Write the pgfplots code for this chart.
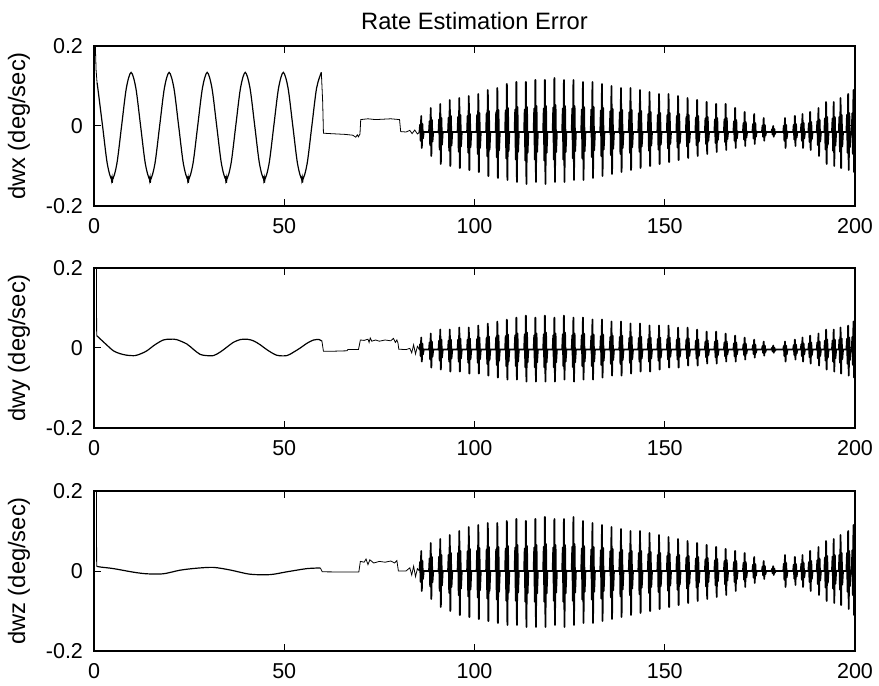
\documentclass[border=0pt]{standalone}
\usepackage{fontspec}
\setmainfont{Liberation Sans}
\usepackage{pgfplots}
\pgfplotsset{compat=1.18}
\usepackage{pgfplotstable}

\pgfplotstableread{
t dwx dwy dwz
85.55 -0.015 -0.004 0
85.7 0.003 0.0095 0.0225
85.85 -0.037 -0.0205 -0.0275
86.0 0.025 0.026 0.05
86.15 -0.055 -0.034 -0.05
86.3 0.005 0.011 0.025
86.45 -0.031 -0.016 -0.02
86.65 -0.015 -0.004 0
88.05 -0.015 -0.004 0
88.2 0.012 0.014 0.0315
88.35 -0.048 -0.0288 -0.0385
88.5 0.045 0.036 0.07
88.65 -0.075 -0.049 -0.07
88.8 0.015 0.016 0.035
88.95 -0.039 -0.022 -0.028
89.15 -0.015 -0.004 0
90.55 -0.015 -0.004 0
90.7 0.0165 0.0185 0.036
90.85 -0.059 -0.0315 -0.0495
91.0 0.055 0.046 0.08
91.15 -0.095 -0.054 -0.09
91.3 0.02 0.021 0.04
91.45 -0.047 -0.024 -0.036
91.65 -0.015 -0.004 0
93.05 -0.015 -0.004 0
93.2 0.021 0.0185 0.0405
93.35 -0.062 -0.034 -0.055
93.5 0.065 0.046 0.09
93.65 -0.1 -0.059 -0.1
93.8 0.025 0.021 0.045
93.95 -0.049 -0.026 -0.04
94.15 -0.015 -0.004 0
95.55 -0.015 -0.004 0
95.7 0.023 0.0208 0.045
95.85 -0.0645 -0.034 -0.0605
96.0 0.07 0.051 0.1
96.15 -0.105 -0.059 -0.11
96.3 0.0275 0.0235 0.05
96.45 -0.051 -0.026 -0.044
96.65 -0.015 -0.004 0
98.05 -0.015 -0.004 0
98.2 0.0255 0.0208 0.0495
98.35 -0.067 -0.037 -0.0633
98.5 0.075 0.051 0.11
98.65 -0.11 -0.064 -0.115
98.8 0.03 0.0235 0.055
98.95 -0.053 -0.028 -0.046
99.15 -0.015 -0.004 0
100.55 -0.015 -0.004 0
100.7 0.028 0.023 0.0518
100.85 -0.07 -0.037 -0.066
101.0 0.08 0.056 0.115
101.15 -0.115 -0.064 -0.12
101.3 0.0325 0.026 0.0575
101.45 -0.055 -0.028 -0.048
101.65 -0.015 -0.004 0
103.05 -0.015 -0.004 0
103.2 0.032 0.0253 0.054
103.35 -0.0755 -0.0398 -0.0688
103.5 0.09 0.061 0.12
103.65 -0.125 -0.069 -0.125
103.8 0.0375 0.0285 0.06
103.95 -0.059 -0.03 -0.05
104.15 -0.015 -0.004 0
105.55 -0.015 -0.004 0
105.7 0.0345 0.0275 0.054
105.85 -0.078 -0.0425 -0.0715
106.0 0.095 0.066 0.12
106.15 -0.13 -0.074 -0.13
106.3 0.04 0.031 0.06
106.45 -0.061 -0.032 -0.052
106.65 -0.015 -0.004 0
108.05 -0.015 -0.004 0
108.2 0.039 0.0298 0.0563
108.35 -0.081 -0.0453 -0.0743
108.5 0.105 0.071 0.125
108.65 -0.135 -0.079 -0.135
108.8 0.045 0.0335 0.0625
108.95 -0.063 -0.034 -0.054
109.15 -0.015 -0.004 0
110.55 -0.015 -0.004 0
110.7 0.041 0.032 0.0585
110.85 -0.084 -0.0453 -0.0743
111.0 0.11 0.076 0.13
111.15 -0.14 -0.079 -0.135
111.3 0.0475 0.036 0.065
111.45 -0.065 -0.034 -0.054
111.65 -0.015 -0.004 0
113.05 -0.015 -0.004 0
113.2 0.041 0.0343 0.0563
113.35 -0.0865 -0.048 -0.077
113.5 0.11 0.081 0.125
113.65 -0.145 -0.084 -0.14
113.8 0.0475 0.0385 0.0625
113.95 -0.067 -0.036 -0.056
114.15 -0.015 -0.004 0
115.55 -0.015 -0.004 0
115.7 0.0435 0.032 0.0585
115.85 -0.084 -0.048 -0.077
116.0 0.115 0.076 0.13
116.15 -0.14 -0.084 -0.14
116.3 0.05 0.036 0.065
116.45 -0.065 -0.036 -0.056
116.65 -0.015 -0.004 0
118.05 -0.015 -0.004 0
118.2 0.0435 0.0343 0.0608
118.35 -0.0865 -0.048 -0.077
118.5 0.115 0.081 0.135
118.65 -0.145 -0.084 -0.14
118.8 0.05 0.0385 0.0675
118.95 -0.067 -0.036 -0.056
119.15 -0.015 -0.004 0
120.55 -0.015 -0.004 0
120.7 0.046 0.032 0.0585
120.85 -0.084 -0.048 -0.0743
121.0 0.12 0.076 0.13
121.15 -0.14 -0.084 -0.135
121.3 0.0525 0.036 0.065
121.45 -0.065 -0.036 -0.054
121.65 -0.015 -0.004 0
123.05 -0.015 -0.004 0
123.2 0.0435 0.0343 0.0585
123.35 -0.084 -0.0453 -0.077
123.5 0.115 0.081 0.13
123.65 -0.14 -0.079 -0.14
123.8 0.05 0.0385 0.065
123.95 -0.065 -0.034 -0.056
124.15 -0.015 -0.004 0
125.55 -0.015 -0.004 0
125.7 0.0435 0.032 0.0608
125.85 -0.081 -0.048 -0.0743
126.0 0.115 0.076 0.135
126.15 -0.135 -0.084 -0.135
126.3 0.05 0.036 0.0675
126.45 -0.063 -0.036 -0.054
126.65 -0.015 -0.004 0
128.05 -0.015 -0.004 0
128.2 0.041 0.032 0.0563
128.35 -0.081 -0.0453 -0.0715
128.5 0.11 0.076 0.125
128.65 -0.135 -0.079 -0.13
128.8 0.0475 0.036 0.0625
128.95 -0.063 -0.034 -0.052
129.15 -0.015 -0.004 0
130.55 -0.015 -0.004 0
130.7 0.041 0.0298 0.054
130.85 -0.078 -0.0453 -0.0715
131.0 0.11 0.071 0.12
131.15 -0.13 -0.079 -0.13
131.3 0.0475 0.0335 0.06
131.45 -0.061 -0.034 -0.052
131.65 -0.015 -0.004 0
133.05 -0.015 -0.004 0
133.2 0.039 0.0298 0.0518
133.35 -0.0755 -0.0425 -0.0688
133.5 0.105 0.071 0.115
133.65 -0.125 -0.074 -0.125
133.8 0.045 0.0335 0.0575
133.95 -0.059 -0.032 -0.05
134.15 -0.015 -0.004 0
135.55 -0.015 -0.004 0
135.7 0.037 0.0275 0.0495
135.85 -0.073 -0.0398 -0.066
136.0 0.1 0.066 0.11
136.15 -0.12 -0.069 -0.12
136.3 0.0425 0.031 0.055
136.45 -0.057 -0.03 -0.048
136.65 -0.015 -0.004 0
138.05 -0.015 -0.004 0
138.2 0.0345 0.0275 0.0473
138.35 -0.07 -0.0398 -0.0633
138.5 0.095 0.066 0.105
138.65 -0.115 -0.069 -0.115
138.8 0.04 0.031 0.0525
138.95 -0.055 -0.03 -0.046
139.15 -0.015 -0.004 0
140.55 -0.015 -0.004 0
140.7 0.0345 0.0253 0.045
140.85 -0.067 -0.037 -0.0605
141.0 0.095 0.061 0.1
141.15 -0.11 -0.064 -0.11
141.3 0.04 0.0285 0.05
141.45 -0.053 -0.028 -0.044
141.65 -0.015 -0.004 0
143.05 -0.015 -0.004 0
143.2 0.032 0.0253 0.045
143.35 -0.0645 -0.034 -0.0578
143.5 0.09 0.061 0.1
143.65 -0.105 -0.059 -0.105
143.8 0.0375 0.0285 0.05
143.95 -0.051 -0.026 -0.042
144.15 -0.015 -0.004 0
145.55 -0.015 -0.004 0
145.7 0.03 0.023 0.0428
145.85 -0.062 -0.034 -0.055
146.0 0.085 0.056 0.095
146.15 -0.1 -0.059 -0.1
146.3 0.035 0.026 0.0475
146.45 -0.049 -0.026 -0.04
146.65 -0.015 -0.004 0
148.05 -0.015 -0.004 0
148.2 0.028 0.023 0.0405
148.35 -0.059 -0.0315 -0.0523
148.5 0.08 0.056 0.09
148.65 -0.095 -0.054 -0.095
148.8 0.0325 0.026 0.045
148.95 -0.047 -0.024 -0.038
149.15 -0.015 -0.004 0
150.55 -0.015 -0.004 0
150.7 0.028 0.023 0.0383
150.85 -0.056 -0.0288 -0.0495
151.0 0.08 0.056 0.085
151.15 -0.09 -0.049 -0.09
151.3 0.0325 0.026 0.0425
151.45 -0.045 -0.022 -0.036
151.65 -0.015 -0.004 0
153.05 -0.015 -0.004 0
153.2 0.0255 0.0208 0.036
153.35 -0.0535 -0.0288 -0.0468
153.5 0.075 0.051 0.08
153.65 -0.085 -0.049 -0.085
153.8 0.03 0.0235 0.04
153.95 -0.043 -0.022 -0.034
154.15 -0.015 -0.004 0
155.55 -0.015 -0.004 0
155.7 0.023 0.0208 0.0338
155.85 -0.051 -0.026 -0.044
156.0 0.07 0.051 0.075
156.15 -0.08 -0.044 -0.08
156.3 0.0275 0.0235 0.0375
156.45 -0.041 -0.02 -0.032
156.65 -0.015 -0.004 0
158.05 -0.015 -0.004 0
158.2 0.021 0.0185 0.0315
158.35 -0.048 -0.026 -0.0413
158.5 0.065 0.046 0.07
158.65 -0.075 -0.044 -0.075
158.8 0.025 0.021 0.035
158.95 -0.039 -0.02 -0.03
159.15 -0.015 -0.004 0
160.55 -0.015 -0.004 0
160.7 0.019 0.0163 0.0293
160.85 -0.045 -0.0233 -0.0385
161.0 0.06 0.041 0.065
161.15 -0.07 -0.039 -0.07
161.3 0.0225 0.0185 0.0325
161.45 -0.037 -0.018 -0.028
161.65 -0.015 -0.004 0
163.05 -0.015 -0.004 0
163.2 0.0165 0.0163 0.027
163.35 -0.0425 -0.0233 -0.0358
163.5 0.055 0.041 0.06
163.65 -0.065 -0.039 -0.065
163.8 0.02 0.0185 0.03
163.95 -0.035 -0.018 -0.026
164.15 -0.015 -0.004 0
165.55 -0.015 -0.004 0
165.7 0.0165 0.014 0.0248
165.85 -0.04 -0.0205 -0.033
166.0 0.055 0.036 0.055
166.15 -0.06 -0.034 -0.06
166.3 0.02 0.016 0.0275
166.45 -0.033 -0.016 -0.024
166.65 -0.015 -0.004 0
168.05 -0.015 -0.004 0
168.2 0.012 0.0118 0.0225
168.35 -0.037 -0.0205 -0.0275
168.5 0.045 0.031 0.05
168.65 -0.055 -0.034 -0.05
168.8 0.015 0.0135 0.025
168.95 -0.031 -0.016 -0.02
169.15 -0.015 -0.004 0
170.55 -0.015 -0.004 0
170.7 0.0075 0.0095 0.0203
170.85 -0.034 -0.0178 -0.022
171.0 0.035 0.026 0.045
171.15 -0.05 -0.029 -0.04
171.3 0.01 0.011 0.0225
171.45 -0.029 -0.014 -0.016
171.65 -0.015 -0.004 0
173.05 -0.015 -0.004 0
173.2 0.005 0.0073 0.0158
173.35 -0.0315 -0.015 -0.0165
173.5 0.03 0.021 0.035
173.65 -0.045 -0.024 -0.03
173.8 0.0075 0.0085 0.0175
173.95 -0.027 -0.012 -0.012
174.15 -0.015 -0.004 0
175.55 -0.015 -0.004 0
175.7 0.001 0.005 0.0113
175.85 -0.027 -0.0123 -0.011
176.0 0.02 0.016 0.025
176.15 -0.037 -0.019 -0.02
176.3 0.0025 0.006 0.0125
176.45 -0.024 -0.01 -0.008
176.65 -0.015 -0.004 0
178.05 -0.015 -0.004 0
178.2 -0.008 0.0005 0.0054
178.35 -0.0215 -0.0084 -0.0055
178.5 0 0.006 0.012
178.65 -0.027 -0.012 -0.01
178.8 -0.0075 0.001 0.006
178.95 -0.02 -0.0072 -0.004
179.15 -0.015 -0.004 0
181.15 -0.015 -0.004 0
181.3 0.001 0.005 0.018
181.45 -0.037 -0.0205 -0.022
181.6 0.02 0.016 0.04
181.75 -0.055 -0.034 -0.04
181.9 0.0025 0.006 0.02
182.05 -0.031 -0.016 -0.016
182.25 -0.015 -0.004 0
183.75 -0.015 -0.004 0
183.9 0.003 0.0073 0.0158
184.05 -0.034 -0.0178 -0.0193
184.2 0.025 0.021 0.035
184.35 -0.05 -0.029 -0.035
184.5 0.005 0.0085 0.0175
184.65 -0.029 -0.014 -0.014
184.85 -0.015 -0.004 0
185.75 -0.015 -0.004 0
185.9 0.005 0.0095 0.018
186.05 -0.037 -0.0205 -0.022
186.2 0.03 0.026 0.04
186.35 -0.055 -0.034 -0.04
186.5 0.0075 0.011 0.02
186.65 -0.031 -0.016 -0.016
186.85 -0.015 -0.004 0
187.75 -0.015 -0.004 0
187.9 0.0075 0.0118 0.0225
188.05 -0.04 -0.0233 -0.0275
188.2 0.035 0.031 0.05
188.35 -0.06 -0.039 -0.05
188.5 0.01 0.0135 0.025
188.65 -0.033 -0.018 -0.02
188.85 -0.015 -0.004 0
189.95 -0.015 -0.004 0
190.1 0.012 0.014 0.027
190.25 -0.048 -0.026 -0.033
190.4 0.045 0.036 0.06
190.55 -0.075 -0.044 -0.06
190.7 0.015 0.016 0.03
190.85 -0.039 -0.02 -0.024
191.05 -0.015 -0.004 0
191.95 -0.015 -0.004 0
192.1 0.019 0.0185 0.0338
192.25 -0.059 -0.0315 -0.0413
192.4 0.06 0.046 0.075
192.55 -0.095 -0.054 -0.075
192.7 0.0225 0.021 0.0375
192.85 -0.047 -0.024 -0.03
193.05 -0.015 -0.004 0
193.95 -0.015 -0.004 0
194.1 0.019 0.0185 0.036
194.25 -0.062 -0.034 -0.044
194.4 0.06 0.046 0.08
194.55 -0.1 -0.059 -0.08
194.7 0.0225 0.021 0.04
194.85 -0.049 -0.026 -0.032
195.05 -0.015 -0.004 0
195.75 -0.015 -0.004 0
195.9 0.023 0.0208 0.0405
196.05 -0.0645 -0.037 -0.0468
196.2 0.07 0.051 0.09
196.35 -0.105 -0.064 -0.085
196.5 0.0275 0.0235 0.045
196.65 -0.051 -0.028 -0.034
196.85 -0.015 -0.004 0
197.75 -0.015 -0.004 0
197.9 0.028 0.023 0.045
198.05 -0.067 -0.0398 -0.0523
198.2 0.08 0.056 0.1
198.35 -0.11 -0.069 -0.095
198.5 0.0325 0.026 0.05
198.65 -0.053 -0.03 -0.038
198.85 -0.015 -0.004 0
199.15 -0.015 -0.004 0
199.3 0.032 0.0275 0.0518
199.45 -0.07 -0.0425 -0.0605
199.6 0.09 0.066 0.115
199.75 -0.115 -0.074 -0.11
199.9 0.0375 0.031 0.0575
200.0 -0.055 -0.032 -0.044
}\bursts

\pgfplotsset{
  rate/.style={
    scale only axis, width=380.5bp, height=80bp,
    anchor=south west,
    xmin=0, xmax=200, ymin=-0.2, ymax=0.2,
    xtick={0,50,100,150,200}, xticklabels={0,50,100,150,200},
    ytick={-0.2,0,0.2}, yticklabels={-0.2,0,0.2},
    tick align=inside, major tick length=3.6bp,
    tick style={black, line width=0.5bp},
    axis line style={black, line width=0.6bp},
    ticklabel style={font=\fontsize{10.8}{12}\selectfont},
    xticklabel style={yshift=-2.5bp},
    yticklabel style={xshift=-2bp},
    ylabel style={at={([xshift=-37.5bp]axis description cs:0,0.5)}, anchor=center,
      font=\fontsize{11.9}{13}\selectfont},
    cycle list={{black, line width=0.6bp, mark=none}},
    every axis plot post/.append style={black, mark=none},
    unbounded coords=jump,
  },
  burst/.style={black, line width=0.9bp, line join=round},
}

\begin{document}
\begin{tikzpicture}
\path[use as bounding box] (0,0) rectangle (439.5bp,343bp);

% ---------------- dwx ----------------
\begin{axis}[rate, at={(47bp,240bp)}, ylabel={dwx (deg/sec)},
  title={Rate Estimation Error}, every axis title shift=0pt,
  title style={at={(0.5,1)}, anchor=base, yshift=8bp, font=\fontsize{11.9}{13}\selectfont}]
\addplot coordinates {(0.25,0.3) (0.35,0.2) (0.55,0.14) (0.8,0.108)};
\addplot[smooth, line width=0.6bp] coordinates {
(0.8,0.108) (1.0,0.0948) (2.25,0) (3.5,-0.0948) (4.75,-0.134) (6.0,-0.0948) (7.25,0) (8.5,0.0948)
(9.75,0.134) (11,0.0948) (12.25,0) (13.5,-0.0948) (14.75,-0.134) (16,-0.0948) (17.25,0) (18.5,0.0948)
(19.75,0.134) (21,0.0948) (22.25,0) (23.5,-0.0948) (24.75,-0.134) (26,-0.0948) (27.25,0) (28.5,0.0948)
(29.75,0.134) (31,0.0948) (32.25,0) (33.5,-0.0948) (34.75,-0.134) (36,-0.0948) (37.25,0) (38.5,0.0948)
(39.75,0.134) (41,0.0948) (42.25,0) (43.5,-0.0948) (44.75,-0.134) (46,-0.0948) (47.25,0) (48.5,0.0948)
(49.75,0.134) (51,0.0948) (52.25,0) (53.5,-0.0948) (54.75,-0.134) (56,-0.0948) (57.25,0) (58.5,0.0948)
(59.75,0.134)};
\addplot coordinates {
(4.45,-0.125) (4.6,-0.138) (4.75,-0.128) (4.85,-0.142) (5.05,-0.126) (5.1,nan)
(14.45,-0.125) (14.6,-0.138) (14.75,-0.128) (14.85,-0.142) (15.05,-0.126) (15.1,nan)
(24.45,-0.125) (24.6,-0.138) (24.75,-0.128) (24.85,-0.142) (25.05,-0.126) (25.1,nan)
(34.45,-0.125) (34.6,-0.138) (34.75,-0.128) (34.85,-0.142) (35.05,-0.126) (35.1,nan)
(44.45,-0.125) (44.6,-0.138) (44.75,-0.128) (44.85,-0.142) (45.05,-0.126) (45.1,nan)
(54.45,-0.125) (54.6,-0.138) (54.75,-0.128) (54.85,-0.142) (55.05,-0.126)};
\addplot coordinates {
(59.75,0.134) (60.1,0.06) (60.3,-0.018) (62,-0.019) (64,-0.02) (66,-0.021) (68,-0.023)
(68.8,-0.028) (69.2,-0.022) (69.5,-0.027) (69.9,-0.02) (70.1,0.016) (72,0.018) (74,0.016)
(76,0.017) (78,0.018) (80.3,0.016) (80.6,-0.014) (82,-0.015) (83,-0.011) (83.6,-0.019)
(84.3,-0.01) (85,-0.02) (85.55,-0.015)};
\addplot[burst] table[x=t, y=dwx] {\bursts};
\end{axis}

% ---------------- dwy ----------------
\begin{axis}[rate, at={(47bp,129bp)}, ylabel={dwy (deg/sec)}]
\addplot coordinates {(0.6,0.3) (0.7,0.031)};
\addplot[smooth, line width=0.6bp] coordinates {
(0.7,0.031) (1.6,0.023) (3.3,0.008) (5.1,-0.007) (6.8,-0.014) (8.6,-0.018) (10.8,-0.019)
(12.4,-0.014) (13.9,-0.007) (16,0.008) (18.2,0.02) (20,0.022) (21.7,0.021) (24.4,0.010)
(26.2,-0.004) (27.9,-0.016) (29.6,-0.019) (31.4,-0.019) (33.2,-0.01) (34.9,0.002) (36.6,0.014)
(38.4,0.021) (40.2,0.022) (41.9,0.018) (43.7,0.008) (45.4,-0.004) (48,-0.018) (50.7,-0.019)
(52.5,-0.01) (54.2,0) (56,0.012) (57.7,0.02) (59.2,0.021) (59.9,0.017)};
\addplot coordinates {
(59.9,0.017) (60.3,-0.008) (63,-0.008) (66.5,-0.007) (66.7,-0.004) (69.5,-0.004) (69.7,0.005)
(70.0,0.02) (71,0.019) (72,0.022) (72.3,0.014) (72.6,0.025) (73,0.017) (74,0.02) (75,0.017)
(76.5,0.02) (78,0.018) (78.7,0.024) (79.2,0.014) (79.6,0.02) (79.9,0.012) (80.1,-0.003)
(82,-0.004) (83,-0.001) (83.5,-0.012) (84,0.008) (84.5,-0.015) (85,0.004) (85.55,-0.004)};
\addplot[burst] table[x=t, y=dwy] {\bursts};
\end{axis}

% ---------------- dwz ----------------
\begin{axis}[rate, at={(47bp,17.5bp)}, ylabel={dwz (deg/sec)}]
\addplot coordinates {(0.6,0.3) (0.7,0.012)};
\addplot[smooth, line width=0.6bp] coordinates {
(0.7,0.012) (1.6,0.010) (5.1,0.006) (10.4,-0.003) (13.9,-0.007) (18.2,-0.007) (22.6,0.002)
(27,0.007) (31.4,0.009) (35.8,0.0025) (41,-0.008) (46.3,-0.009) (50.7,-0.002) (56,0.006)
(59.5,0.0075)};
\addplot coordinates {
(59.5,0.0075) (60,-0.002) (65,-0.0025) (69.6,-0.0025) (70,0.024) (71,0.022) (71.5,0.03)
(72,0.016) (72.5,0.028) (73.5,0.02) (75,0.024) (76.5,0.022) (78,0.025) (79,0.02) (79.6,0.026)
(80,0) (82,0) (83,0.008) (83.5,-0.01) (84,0.012) (84.5,-0.014) (85,0.006) (85.55,0)};
\addplot[burst] table[x=t, y=dwz] {\bursts};
\end{axis}
\end{tikzpicture}
\end{document}
